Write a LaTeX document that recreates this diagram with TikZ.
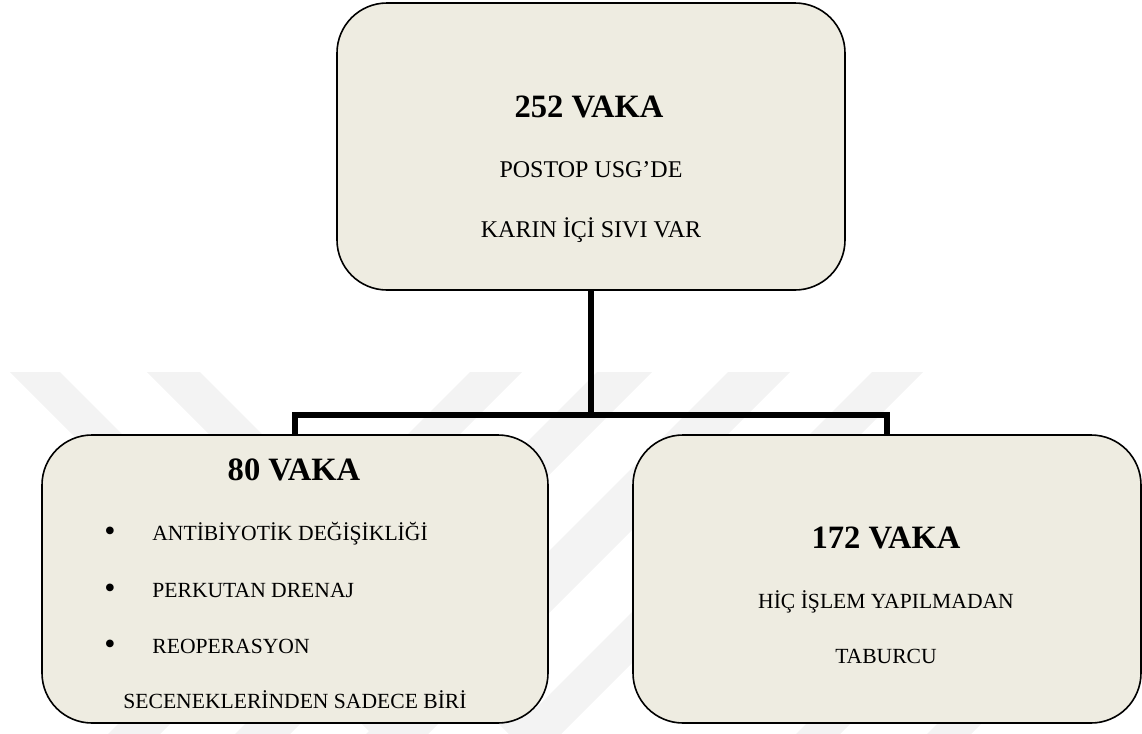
\documentclass[tikz,border=0pt]{standalone}
\usepackage{fontspec}
\setmainfont{Liberation Serif}
\definecolor{boxfill}{RGB}{238,236,225}
\definecolor{wm}{RGB}{243,243,243}
\begin{document}
\begin{tikzpicture}[x=0.5pt,y=-0.5pt,
  box/.style={draw=black, line width=0.8pt, fill=boxfill, rounded corners=25pt, rectangle, inner sep=0pt},
  conn/.style={line width=3pt, draw=black},
  head/.style={font=\fontsize{16.3pt}{19pt}\selectfont\bfseries, anchor=base, inner sep=0pt},
  body/.style={font=\fontsize{12pt}{14pt}\selectfont, anchor=base, inner sep=0pt},
  small/.style={font=\fontsize{10.8pt}{13pt}\selectfont, anchor=base, inner sep=0pt},
  bul/.style={font=\fontsize{16pt}{14pt}\selectfont, anchor=base, inner sep=0pt},
  stripe/.style={fill=wm}]
\useasboundingbox (0,0) rectangle (1142,734);
% watermark stripes
\fill[stripe] (10,372) -- (60,372) -- (422,734) -- (372,734) -- cycle;
\fill[stripe] (147,372) -- (200,372) -- (562,734) -- (509,734) -- cycle;
\fill[stripe] (470,372) -- (522,372) -- (160,734) -- (108,734) -- cycle;
\fill[stripe] (597,372) -- (652,372) -- (290,734) -- (235,734) -- cycle;
\fill[stripe] (728,372) -- (790,372) -- (428,734) -- (366,734) -- cycle;
\fill[stripe] (872,372) -- (923,372) -- (561,734) -- (510,734) -- cycle;
\fill[stripe] (930,600) -- (974,600) -- (840,734) -- (796,734) -- cycle;
\fill[stripe] (1061,600) -- (1105,600) -- (971,734) -- (927,734) -- cycle;
% boxes
\node[box, minimum width=254pt, minimum height=143.5pt] (top) at (591,146.5) {};
\node[box, minimum width=253pt, minimum height=144pt] (L) at (295,579) {};
\node[box, minimum width=254pt, minimum height=144pt] (R) at (887,579) {};
% connectors
\coordinate (j) at (591,415);
\draw[conn] (top.south) -- (j);
\draw[conn] (L.north) |- (j) -| (R.north);
% top box text
\node[head] (t1) at (589,117) {252 VAKA};
\node[body] (t2) at (591,177) {POSTOP USG’DE};
\node[body] (t3) at (591,237) {KARIN İÇİ SIVI VAR};
% left box text
\node[head] (l1) at (294,480) {80 VAKA};
\node[bul] (b1) at (110,541) {•};
\node[small, anchor=base west] (l2) at (152,540) {ANTİBİYOTİK DEĞİŞİKLİĞİ};
\node[bul] (b2) at (110,598) {•};
\node[small, anchor=base west] (l3) at (152,597) {PERKUTAN DRENAJ};
\node[bul] (b3) at (110,654) {•};
\node[small, anchor=base west] (l4) at (152,653) {REOPERASYON};
\node[small] (l5) at (295,708) {SECENEKLERİNDEN SADECE BİRİ};
% right box text
\node[head] (r1) at (886,548) {172 VAKA};
\node[small] (r2) at (886,608) {HİÇ İŞLEM YAPILMADAN};
\node[small] (r3) at (886,663) {TABURCU};
\end{tikzpicture}
\end{document}
